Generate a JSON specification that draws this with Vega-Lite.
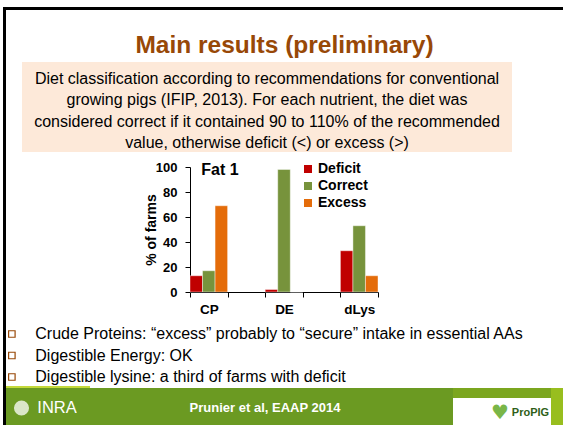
{
  "$schema": "https://vega.github.io/schema/vega-lite/v6.json",
  "padding": 0,
  "background": "white",
  "config": {"view": {"stroke": null}, "font": "Liberation Sans", "concat": {"spacing": 0}},
  "datasets": {
    "empty": [],
    "bars": [
      {"nutrient": "CP", "status": "Deficit", "pct": 13},
      {"nutrient": "CP", "status": "Correct", "pct": 17},
      {"nutrient": "CP", "status": "Excess", "pct": 69},
      {"nutrient": "DE", "status": "Deficit", "pct": 2},
      {"nutrient": "DE", "status": "Correct", "pct": 98},
      {"nutrient": "DE", "status": "Excess", "pct": 0},
      {"nutrient": "dLys", "status": "Deficit", "pct": 33},
      {"nutrient": "dLys", "status": "Correct", "pct": 53},
      {"nutrient": "dLys", "status": "Excess", "pct": 13}
    ],
    "fat": [{"label": "Fat 1"}],
    "title": [{"text": "Main results (preliminary)"}],
    "desc": [
      {"line": 1, "text": "Diet classification according to recommendations for conventional"},
      {"line": 2, "text": "growing pigs (IFIP, 2013). For each nutrient, the diet was"},
      {"line": 3, "text": "considered correct if it contained 90 to 110% of the recommended"},
      {"line": 4, "text": "value, otherwise deficit (<) or excess (>)"}
    ],
    "bullets": [
      {"line": 1, "text": "Crude Proteins: “excess” probably to “secure” intake in essential AAs"},
      {"line": 2, "text": "Digestible Energy: OK"},
      {"line": 3, "text": "Digestible lysine: a third of farms with deficit"}
    ],
    "footer": [{"text": "Prunier et al, EAAP 2014"}],
    "inra": [{"text": "INRA"}],
    "globe": [{"item": "globe"}],
    "heart": [{"text": "♥"}],
    "logo": [{"text": "ProPIG"}]
  },
  "spacing": 0,
  "resolve": {"scale": {"color": "independent"}, "legend": {"color": "independent"}},
  "hconcat": [
    {"width": 3, "height": 425, "data": {"name": "empty"}, "mark": "point"},
    {"spacing": 0, "vconcat": [
      {"width": 3, "height": 7, "data": {"name": "empty"}, "mark": "point"},
      {"width": 3, "height": 418, "view": {"fill": "black"}, "data": {"name": "empty"}, "mark": "point"}
    ]},
    {"spacing": 0,
     "resolve": {"scale": {"color": "independent"}, "legend": {"color": "independent"}},
     "vconcat": [
      {"width": 557, "height": 7, "data": {"name": "empty"}, "mark": "point"},
      {"width": 557, "height": 3, "view": {"fill": "black"}, "data": {"name": "empty"}, "mark": "point"},
      {"width": 557, "height": 19, "data": {"name": "empty"}, "mark": "point"},
      {"width": 557, "height": 33, "data": {"name": "title"},
       "mark": {"type": "text", "fontSize": 24.5, "fontWeight": "bold", "fill": "#984807"},
       "encoding": {"text": {"field": "text"}}},
      {"spacing": 0, "hconcat": [
        {"width": 16, "height": 90, "data": {"name": "empty"}, "mark": "point"},
        {"width": 490, "height": 90, "view": {"fill": "#FDE9D9"}, "data": {"name": "desc"},
         "mark": {"type": "text", "fontSize": 16, "fill": "black"},
         "encoding": {"text": {"field": "text"},
                      "y": {"field": "line", "type": "ordinal", "axis": null, "scale": {"padding": 0.593, "align": 0.66}}}}
      ]},
      {"width": 557, "height": 8.5, "data": {"name": "empty"}, "mark": "point"},
      {"spacing": 0, "bounds": "flush",
       "resolve": {"scale": {"color": "independent"}, "legend": {"color": "independent"}},
       "hconcat": [
        {"width": 184, "height": 125, "data": {"name": "empty"}, "mark": "point"},
        {"width": 188, "height": 125,
         "layer": [
          {"data": {"name": "bars"},
           "mark": {"type": "bar", "stroke": "white", "strokeWidth": 0.6, "strokeOpacity": 0.7},
           "encoding": {
             "x": {"field": "nutrient", "type": "nominal",
                   "scale": {"domain": ["CP", "gap1", "DE", "gap2", "dLys"], "paddingInner": 0, "paddingOuter": 0},
                   "axis": {"title": null, "labelExpr": "datum.value == 'gap1' || datum.value == 'gap2' ? '' : datum.value",
                            "labelAngle": 0, "tickBand": "extent", "tickSize": 5, "labelPadding": 5,
                            "labelFontSize": 13.5, "labelFontWeight": "bold", "labelColor": "black",
                            "domainColor": "black", "tickColor": "black", "grid": false}},
             "xOffset": {"field": "status", "type": "nominal",
                         "scale": {"domain": ["Deficit", "Correct", "Excess"], "paddingInner": 0, "paddingOuter": 0}},
             "y": {"field": "pct", "type": "quantitative", "scale": {"domain": [0, 100]},
                   "axis": {"title": "% of farms", "values": [0, 20, 40, 60, 80, 100], "grid": false,
                            "tickSize": 5, "labelPadding": 8, "labelFontSize": 13, "labelFontWeight": "bold",
                            "labelColor": "black", "labelFlush": false, "labelOverlap": false,
                            "domainColor": "black", "tickColor": "black",
                            "titleFontSize": 14, "titleFontWeight": "bold", "titleColor": "black", "titlePadding": -3}},
             "color": {"field": "status", "type": "nominal",
                       "scale": {"domain": ["Deficit", "Correct", "Excess"], "range": ["#C00000", "#77933C", "#E46C0A"]},
                       "legend": {"title": null, "orient": "none", "legendX": 111, "legendY": -5,
                                  "symbolType": "square", "symbolSize": 64, "symbolStrokeWidth": 0,
                                  "labelFontSize": 14, "labelFontWeight": "bold", "labelColor": "black",
                                  "rowPadding": 3, "labelOffset": 3}}
           }},
          {"data": {"name": "fat"},
           "mark": {"type": "text", "align": "left", "baseline": "alphabetic", "fontSize": 16, "fontWeight": "bold", "fill": "black"},
           "encoding": {"text": {"field": "label"},
                        "x": {"datum": "CP", "bandPosition": 0.3,
                              "axis": {"title": null, "labelExpr": "datum.value == 'gap1' || datum.value == 'gap2' ? '' : datum.value",
                                       "labelAngle": 0, "tickBand": "extent", "tickSize": 5, "labelPadding": 5,
                                       "labelFontSize": 13.5, "labelFontWeight": "bold", "labelColor": "black",
                                       "domainColor": "black", "tickColor": "black", "grid": false}},
                        "y": {"datum": 93.6,
                              "axis": {"title": "% of farms", "values": [0, 20, 40, 60, 80, 100], "grid": false,
                                       "tickSize": 5, "labelPadding": 8, "labelFontSize": 13, "labelFontWeight": "bold",
                                       "labelColor": "black", "labelFlush": false, "labelOverlap": false,
                                       "domainColor": "black", "tickColor": "black",
                                       "titleFontSize": 14, "titleFontWeight": "bold", "titleColor": "black", "titlePadding": -3}}}}
         ]}
      ]},
      {"width": 557, "height": 8.5, "data": {"name": "empty"}, "mark": "point"},
      {"spacing": 0, "bounds": "flush", "hconcat": [
        {"width": 11.7, "height": 59, "data": {"name": "bullets"},
         "mark": {"type": "point", "shape": "square", "filled": false, "fill": "white", "stroke": "#984807", "strokeWidth": 1.2, "size": 42, "opacity": 1},
         "encoding": {"y": {"field": "line", "type": "ordinal", "axis": null, "scale": {"padding": 0.372}}}},
        {"width": 34.6, "height": 59, "data": {"name": "bullets"},
         "mark": {"type": "text", "align": "left", "fontSize": 16, "fill": "black"},
         "encoding": {"text": {"field": "text"},
                      "y": {"field": "line", "type": "ordinal", "axis": null, "scale": {"padding": 0.372}}}}
      ]},
      {"width": 84, "height": 2, "view": {"fill": "#C4D93A"}, "data": {"name": "empty"}, "mark": "point"},
      {"spacing": 0, "hconcat": [
        {"width": 31, "height": 40, "view": {"fill": "#6B9A22"}, "data": {"name": "globe"},
         "mark": {"type": "point", "shape": "circle", "filled": true, "fill": "white", "opacity": 0.75, "size": 227}},
        {"width": 40, "height": 40, "view": {"fill": "#6B9A22"}, "data": {"name": "inra"},
         "mark": {"type": "text", "fill": "white", "fontSize": 16.5},
         "encoding": {"text": {"field": "text"}}},
        {"width": 376, "height": 40, "view": {"fill": "#6B9A22"}, "data": {"name": "footer"},
         "mark": {"type": "text", "fill": "white", "fontSize": 13, "fontWeight": "bold"},
         "encoding": {"text": {"field": "text"}}},
        {"spacing": 0, "vconcat": [
          {"width": 98, "height": 10, "view": {"fill": "#7BA61F"}, "data": {"name": "empty"}, "mark": "point"},
          {"spacing": 0, "hconcat": [
            {"width": 37, "height": 30, "view": {"fill": "white"}, "data": {"name": "empty"}, "mark": "point"},
            {"width": 20, "height": 30, "view": {"fill": "white"}, "data": {"name": "heart"},
             "mark": {"type": "text", "fill": "#7AB648", "fontSize": 20, "font": "DejaVu Sans"},
             "encoding": {"text": {"field": "text"}}},
            {"width": 41, "height": 30, "view": {"fill": "white"}, "data": {"name": "logo"},
             "mark": {"type": "text", "fill": "#2F5F1A", "fontSize": 11, "fontWeight": "bold"},
             "encoding": {"text": {"field": "text"}}}
          ]}
        ]},
        {"width": 12, "height": 40, "view": {"fill": "#98BE1E"}, "data": {"name": "empty"}, "mark": "point"}
      ]}
    ]}
  ]
}
